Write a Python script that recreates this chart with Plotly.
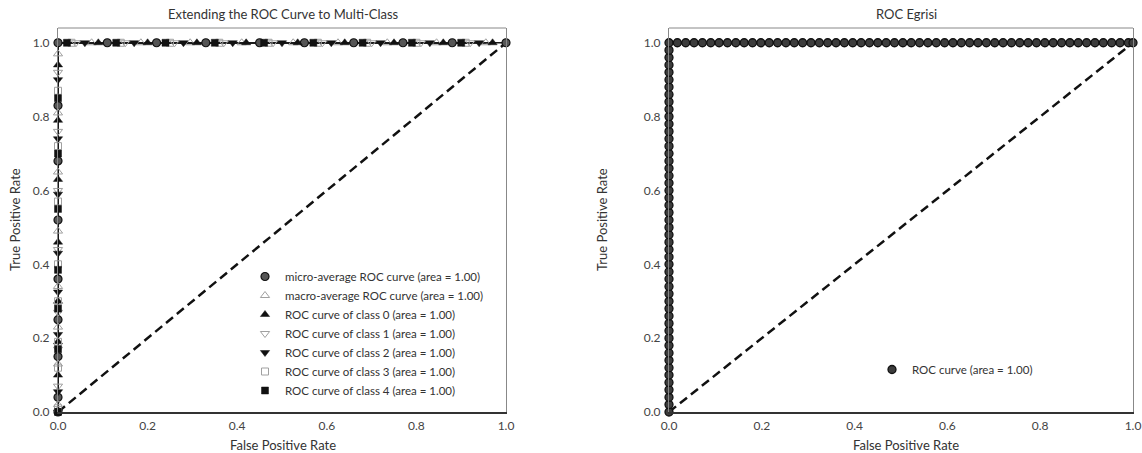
import plotly.graph_objects as go

# ---------------- data ----------------
series_names = [
    "micro-average ROC curve (area = 1.00)",
    "macro-average ROC curve (area = 1.00)",
    "ROC curve of class 0 (area = 1.00)",
    "ROC curve of class 1 (area = 1.00)",
    "ROC curve of class 2 (area = 1.00)",
    "ROC curve of class 3 (area = 1.00)",
    "ROC curve of class 4 (area = 1.00)",
]
# points on the vertical leg (FPR = 0) and on the horizontal leg (TPR = 1)
micro_tpr_v = [0.0, 0.04, 0.15, 0.25, 0.36, 0.52, 0.68, 0.83, 1.0]
micro_fpr_h = [0.11, 0.22, 0.33, 0.45, 0.55, 0.66, 0.77, 0.88, 1.0]
macro_tpr_v = [0.02, 0.13, 0.23, 0.34, 0.49, 0.65, 0.81, 0.97]
macro_fpr_h = [0.075, 0.185, 0.295, 0.41, 0.525, 0.625, 0.735, 0.845, 0.955]
c0_tpr_v = [0.10, 0.19, 0.30, 0.46, 0.63, 0.79, 0.94]
c0_fpr_h = [0.09, 0.20, 0.31, 0.42, 0.535, 0.64, 0.75, 0.86, 0.97]
c1_tpr_v = [0.07, 0.17, 0.27, 0.44, 0.60, 0.76, 0.92]
c1_fpr_h = [0.04, 0.15, 0.26, 0.37, 0.48, 0.59, 0.70, 0.81, 0.92]
c2_tpr_v = [0.0, 0.055, 0.21, 0.325, 0.43, 0.59, 0.74, 0.90]
c2_fpr_h = [0.06, 0.17, 0.28, 0.39, 0.50, 0.61, 0.72, 0.83, 0.94]
c3_tpr_v = [0.01, 0.12, 0.19, 0.30, 0.40, 0.57, 0.72, 0.87]
c3_fpr_h = [0.03, 0.14, 0.25, 0.36, 0.47, 0.58, 0.69, 0.80, 0.91]
c4_tpr_v = [0.0, 0.17, 0.28, 0.385, 0.55, 0.70, 0.85]
c4_fpr_h = [0.02, 0.13, 0.24, 0.35, 0.46, 0.57, 0.68, 0.79, 0.90]
# perfect-classifier corner that every curve passes through
corner_fpr = 0.0
corner_tpr = 1.0

roc_tpr_v = [0.0, 0.02, 0.04, 0.06, 0.08, 0.10, 0.12, 0.14, 0.16, 0.18, 0.20,
             0.22, 0.24, 0.26, 0.28, 0.30, 0.32, 0.34, 0.36, 0.38, 0.40,
             0.42, 0.44, 0.46, 0.48, 0.50, 0.52, 0.54, 0.56, 0.58, 0.60,
             0.62, 0.64, 0.66, 0.68, 0.70, 0.72, 0.74, 0.76, 0.78, 0.80,
             0.82, 0.84, 0.86, 0.88, 0.90, 0.92, 0.94, 0.96, 0.98, 1.0]
roc_fpr_h = [0.018, 0.036, 0.054, 0.072, 0.09, 0.108, 0.126, 0.144, 0.162, 0.18,
             0.198, 0.216, 0.234, 0.252, 0.27, 0.288, 0.306, 0.324, 0.342, 0.36,
             0.378, 0.396, 0.414, 0.432, 0.45, 0.468, 0.486, 0.504, 0.522, 0.54,
             0.558, 0.576, 0.594, 0.612, 0.63, 0.648, 0.666, 0.684, 0.702, 0.72,
             0.738, 0.756, 0.774, 0.792, 0.81, 0.828, 0.846, 0.864, 0.882, 0.9,
             0.918, 0.936, 0.954, 0.972, 0.99, 1.0]
roc_name = "ROC curve (area = 1.00)"

diag_x = [0.0, 1.0]
diag_y = [0.0, 1.0]

tick_vals = [0.0, 0.2, 0.4, 0.6, 0.8, 1.0]
tick_text = ["0.0", "0.2", "0.4", "0.6", "0.8", "1.0"]

# ---------------- styling ----------------
FONT = "Lato"
TXT = "#333333"
W, H = 1142, 453
left_series = [
    (micro_tpr_v, micro_fpr_h, dict(symbol="circle", size=8, color="#555555", line=dict(color="#111111", width=1.2))),
    (macro_tpr_v, macro_fpr_h, dict(symbol="triangle-up-open", size=8, color="#a0a0a0", line=dict(color="#a0a0a0", width=1))),
    (c0_tpr_v, c0_fpr_h, dict(symbol="triangle-up", size=8, color="#111111", line=dict(color="#111111", width=0.5))),
    (c1_tpr_v, c1_fpr_h, dict(symbol="triangle-down-open", size=8, color="#a0a0a0", line=dict(color="#a0a0a0", width=1))),
    (c2_tpr_v, c2_fpr_h, dict(symbol="triangle-down", size=8, color="#111111", line=dict(color="#111111", width=0.5))),
    (c3_tpr_v, c3_fpr_h, dict(symbol="square-open", size=7, color="#a0a0a0", line=dict(color="#a0a0a0", width=1))),
    (c4_tpr_v, c4_fpr_h, dict(symbol="square", size=7, color="#111111", line=dict(color="#111111", width=0.5))),
]

fig = go.Figure()

for tv, fh, mk in left_series:
    xs = [0.0] * len(tv) + [corner_fpr] + fh
    ys = tv + [corner_tpr] + [1.0] * len(fh)
    fig.add_trace(go.Scatter(x=xs, y=ys, mode="lines", line=dict(color="#1a1a1a", width=1.5),
                             showlegend=False, hoverinfo="skip", xaxis="x", yaxis="y", cliponaxis=False))
fig.add_trace(go.Scatter(x=diag_x, y=diag_y, mode="lines", line=dict(color="#111111", width=2.5, dash="9px,5px"),
                         showlegend=False, xaxis="x", yaxis="y"))
for (tv, fh, mk), name in zip(left_series, series_names):
    xs = [0.0] * len(tv) + fh
    ys = tv + [1.0] * len(fh)
    fig.add_trace(go.Scatter(x=xs, y=ys, mode="markers", marker=mk, name=name,
                             xaxis="x", yaxis="y", cliponaxis=False, legend="legend"))

rx = [0.0] * len(roc_tpr_v) + roc_fpr_h
ry = roc_tpr_v + [1.0] * len(roc_fpr_h)
fig.add_trace(go.Scatter(x=rx, y=ry, mode="lines", line=dict(color="#111111", width=2),
                         showlegend=False, xaxis="x2", yaxis="y2", cliponaxis=False))
fig.add_trace(go.Scatter(x=diag_x, y=diag_y, mode="lines", line=dict(color="#111111", width=2.5, dash="9px,5px"),
                         showlegend=False, xaxis="x2", yaxis="y2"))
fig.add_trace(go.Scatter(x=rx, y=ry, mode="markers", name=roc_name,
                         marker=dict(symbol="circle", size=8, color="#3c3c3c", line=dict(color="#111111", width=1.3)),
                         xaxis="x2", yaxis="y2", cliponaxis=False, legend="legend2"))

ydom = [1 - 412 / H, 1 - 28 / H]
xdom1 = [58 / W, 506 / W]
xdom2 = [669 / W, 1133 / W]

axis_common = dict(showgrid=False, zeroline=False, ticks="", tickvals=tick_vals, ticktext=tick_text,
                   tickfont=dict(family=FONT, size=12, color="#444444"), automargin=False,
                   ticklabeloverflow="allow")
xcommon = dict(axis_common, showline=True, linecolor="#333333", linewidth=2, mirror=False, range=[0, 1.0],
               ticklabelstandoff=2)
ycommon = dict(axis_common, showline=True, linecolor="#888888", linewidth=1, mirror=True, range=[0, 1.04],
               ticklabelstandoff=5)

title_font = dict(family=FONT, size=13, color=TXT)


def ann(text, x, y, angle=0):
    return dict(text=text, x=x / W, y=1 - y / H, xref="paper", yref="paper", textangle=angle,
                showarrow=False, xanchor="center", yanchor="middle", font=title_font)


fig.update_layout(
    width=W, height=H, autosize=False,
    margin=dict(l=0, r=0, t=0, b=0, pad=0, autoexpand=False),
    paper_bgcolor="white", plot_bgcolor="white",
    font=dict(family=FONT, color=TXT),
    xaxis=dict(xcommon, domain=xdom1, anchor="y"),
    yaxis=dict(ycommon, domain=ydom, anchor="x"),
    xaxis2=dict(xcommon, domain=xdom2, anchor="y2"),
    yaxis2=dict(ycommon, domain=ydom, anchor="x2"),
    legend=dict(x=245 / W, y=1 - 262 / H, xanchor="left", yanchor="top", bgcolor="rgba(0,0,0,0)",
                font=dict(family=FONT, size=11.5, color=TXT), tracegroupgap=0, itemwidth=30),
    legend2=dict(x=872 / W, y=1 - 355 / H, xanchor="left", yanchor="top", bgcolor="rgba(0,0,0,0)",
                 font=dict(family=FONT, size=11.5, color=TXT), itemwidth=30),
    shapes=[
        dict(type="line", xref="x domain", yref="y domain", x0=0, x1=1, y0=1, y1=1,
             line=dict(color="#888888", width=1)),
        dict(type="line", xref="x2 domain", yref="y2 domain", x0=0, x1=1, y0=1, y1=1,
             line=dict(color="#888888", width=1)),
    ],
    annotations=[
        ann("Extending the ROC Curve to Multi-Class", 283, 14),
        ann("ROC Egrisi", 906, 14),
        ann("False Positive Rate", 283, 445),
        ann("False Positive Rate", 906, 445),
        ann("True Positive Rate", 15, 220, -90),
        ann("True Positive Rate", 602, 220, -90),
    ],
)

fig.write_html("out.html", config={"displayModeBar": False},
               post_script="document.body.style.margin='0';document.body.style.overflow='hidden';")
